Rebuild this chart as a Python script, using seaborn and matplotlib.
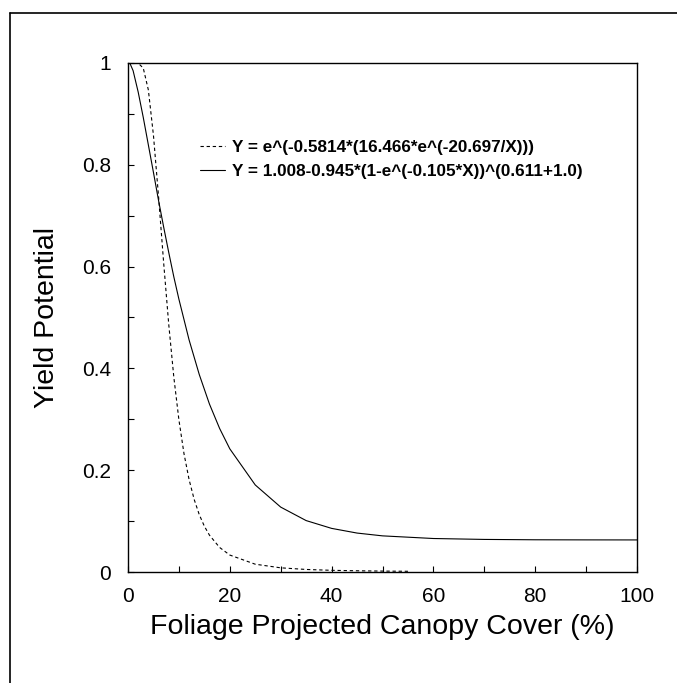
import numpy as np
import pandas as pd
import matplotlib
matplotlib.use("Agg")
import matplotlib.pyplot as plt
from matplotlib.lines import Line2D
from matplotlib.ticker import MultipleLocator
import seaborn as sns

# Values
cover_dashed = [0, 1, 2, 3, 4, 5, 6, 7, 8, 9, 10, 11, 12, 13, 14, 15, 16, 18, 20,
                25, 30, 35, 40, 45, 50, 55]
yield_dashed = [1.0, 1.0, 0.9997, 0.990, 0.947, 0.858, 0.738, 0.608, 0.487, 0.383,
                0.299, 0.2325, 0.1816, 0.1426, 0.1127, 0.090, 0.0724, 0.0482, 0.0333,
                0.0153, 0.0082, 0.0050, 0.0033, 0.0024, 0.0018, 0.0014]

cover_solid = [0, 1, 2, 3, 4, 5, 6, 7, 8, 9, 10, 12, 14, 16, 18, 20, 25, 30, 35,
               40, 45, 50, 60, 70, 80, 90, 100]
yield_solid = [1.008, 0.985, 0.943, 0.893, 0.839, 0.785, 0.730, 0.678, 0.628, 0.580,
               0.536, 0.456, 0.388, 0.330, 0.282, 0.242, 0.171, 0.1275, 0.101,
               0.0857, 0.0765, 0.071, 0.0658, 0.0640, 0.0633, 0.0631, 0.0630]

label_dashed = "Y = e^(-0.5814*(16.466*e^(-20.697/X)))"
label_solid = "Y = 1.008-0.945*(1-e^(-0.105*X))^(0.611+1.0)"

x_ticks = [0, 20, 40, 60, 80, 100]
y_ticks = [0, 0.2, 0.4, 0.6, 0.8, 1.0]
y_tick_labels = ["0", "0.2", "0.4", "0.6", "0.8", "1"]

sns.set_theme(style="white")
plt.rcParams["font.family"] = ["Liberation Sans", "DejaVu Sans"]

fig = plt.figure(figsize=(6.77, 6.83), dpi=100)
ax = fig.add_axes([128 / 677, 1 - 572 / 683, 509 / 677, 509 / 683])

df_d = pd.DataFrame({"x": cover_dashed, "y": yield_dashed})
df_s = pd.DataFrame({"x": cover_solid, "y": yield_solid})
sns.lineplot(data=df_d, x="x", y="y", ax=ax, color="black", linewidth=0.8,
             linestyle=(0, (3, 2.5)), label=label_dashed)
sns.lineplot(data=df_s, x="x", y="y", ax=ax, color="black", linewidth=0.8,
             label=label_solid)

ax.set_xlim(0, 100)
ax.set_ylim(0, 1)
ax.set_xticks(x_ticks)
ax.set_xticklabels([str(t) for t in x_ticks])
ax.set_yticks(y_ticks)
ax.set_yticklabels(y_tick_labels)
ax.xaxis.set_minor_locator(MultipleLocator(10))
ax.yaxis.set_minor_locator(MultipleLocator(0.1))
ax.tick_params(which="both", direction="in", length=4, width=0.8, color="black",
               bottom=True, left=True, top=False, right=False)
ax.tick_params(axis="x", which="major", labelsize=15, pad=10.5, labelcolor="black")
ax.tick_params(axis="y", which="major", labelsize=15, pad=12, labelcolor="black")

for s in ax.spines.values():
    s.set_color("black")
    s.set_linewidth(1.0)

ax.set_xlabel("Foliage Projected Canopy Cover (%)", fontsize=20.5, labelpad=6, color="black")
ax.set_ylabel("Yield Potential", fontsize=20.5, labelpad=16, color="black")

leg = ax.legend(loc="upper left", bbox_to_anchor=(0.128, 0.862), frameon=False,
                prop={"size": 12.3, "weight": "bold"}, handlelength=1.47,
                handletextpad=0.41, labelspacing=0.55, borderaxespad=0)
for t in leg.get_texts():
    t.set_color("black")

# figure border (left and top lines)
fx = 10 / 677
fy = 1 - 13 / 683
fig.add_artist(Line2D([fx, fx], [0, fy], transform=fig.transFigure, color="black", linewidth=1.2))
fig.add_artist(Line2D([fx, 1], [fy, fy], transform=fig.transFigure, color="black", linewidth=1.2))

fig.savefig("out.png", dpi=100, facecolor="white")
